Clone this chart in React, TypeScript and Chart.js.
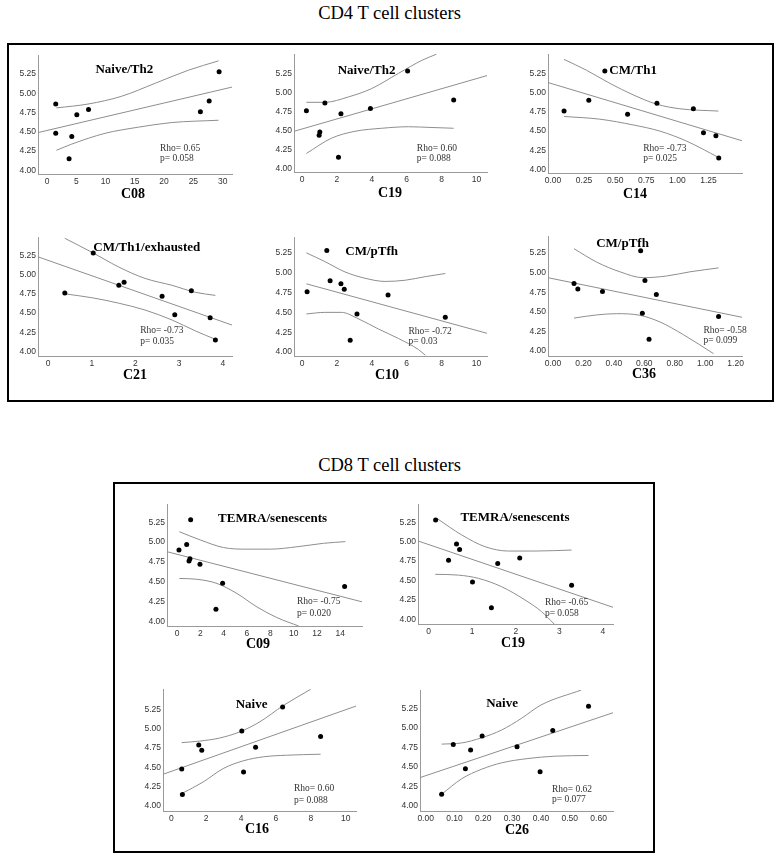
import React, { useEffect, useRef } from 'react';
import { Chart, registerables } from 'chart.js';

Chart.register(...registerables);

type Pt = [number, number];

// ---------------- DATA ----------------
const yTickValues = [4.0, 4.25, 4.5, 4.75, 5.0, 5.25];

// CD4 C08
const cd4C08X = [1.49, 1.49, 3.77, 4.23, 5.09, 7.09, 26.2, 27.7, 29.4];
const cd4C08Y = [4.86, 4.48, 4.15, 4.44, 4.72, 4.79, 4.76, 4.9, 5.28];
const cd4C08Fit: Pt[] = [[-1.54, 4.49], [31.6, 5.08]];
const cd4C08Upper: Pt[] = [[1.6, 4.81], [7.0, 4.86], [12.7, 4.96], [18.5, 5.13], [24.2, 5.3], [29.3, 5.42]];
const cd4C08Lower: Pt[] = [[1.6, 4.26], [4.2, 4.34], [9.9, 4.48], [15.6, 4.56], [21.3, 4.62], [29.3, 4.65]];
const cd4C08Ticks = [0, 5, 10, 15, 20, 25, 30];

// CD4 C19
const cd4C19X = [0.25, 1.31, 1.02, 0.98, 2.23, 2.09, 3.92, 6.05, 8.69];
const cd4C19Y = [4.76, 4.86, 4.48, 4.44, 4.72, 4.15, 4.79, 5.28, 4.9];
const cd4C19Fit: Pt[] = [[-0.46, 4.49], [10.6, 5.22]];
const cd4C19Upper: Pt[] = [[0.25, 4.87], [1.31, 4.87], [2.65, 4.94], [3.99, 5.05], [5.53, 5.25], [6.87, 5.42], [7.7, 5.5]];
const cd4C19Lower: Pt[] = [[0.25, 4.2], [1.69, 4.4], [3.03, 4.49], [4.57, 4.53], [6.1, 4.55], [7.45, 4.54], [8.69, 4.53]];
const cd4C19Ticks = [0, 2, 4, 6, 8, 10];

// CD4 C14
const cd4C14X = [0.089, 0.288, 0.417, 0.6, 0.836, 1.129, 1.21, 1.31, 1.333];
const cd4C14Y = [4.76, 4.9, 5.28, 4.72, 4.86, 4.79, 4.48, 4.44, 4.15];
const cd4C14Fit: Pt[] = [[-0.04, 5.13], [1.52, 4.375]];
const cd4C14Upper: Pt[] = [[0.089, 5.43], [0.269, 5.29], [0.457, 5.12], [0.645, 4.97], [0.833, 4.85], [1.02, 4.79], [1.33, 4.76]];
const cd4C14Lower: Pt[] = [[0.089, 4.69], [0.376, 4.655], [0.645, 4.58], [0.86, 4.5], [1.075, 4.37], [1.33, 4.16]];
const cd4C14Ticks = [0, 0.25, 0.5, 0.75, 1.0, 1.25];

// CD4 C21
const cd4C21X = [0.383, 1.034, 1.62, 1.74, 2.61, 2.9, 3.28, 3.71, 3.83];
const cd4C21Y = [4.76, 5.28, 4.86, 4.9, 4.72, 4.48, 4.79, 4.44, 4.15];
const cd4C21Fit: Pt[] = [[-0.23, 5.23], [4.21, 4.345]];
const cd4C21Upper: Pt[] = [[0.383, 5.47], [1.0, 5.29], [1.61, 5.1], [2.22, 4.95], [2.84, 4.86], [3.37, 4.77], [3.83, 4.73]];
const cd4C21Lower: Pt[] = [[0.383, 4.75], [1.0, 4.7], [1.61, 4.63], [2.22, 4.54], [2.84, 4.41], [3.37, 4.27], [3.83, 4.16]];
const cd4C21Ticks = [0, 1, 2, 3, 4];

// CD4 C10
const cd4C10X = [0.29, 1.42, 1.61, 2.23, 2.42, 4.93, 3.15, 2.76, 8.21];
const cd4C10Y = [4.76, 5.28, 4.9, 4.86, 4.79, 4.72, 4.48, 4.15, 4.44];
const cd4C10Fit: Pt[] = [[0.25, 4.86], [10.6, 4.236]];
const cd4C10Upper: Pt[] = [[0.25, 5.25], [1.31, 5.14], [2.46, 5.01], [3.61, 4.93], [4.76, 4.89], [5.91, 4.905], [7.06, 4.95], [8.21, 4.99]];
const cd4C10Lower: Pt[] = [[0.25, 4.48], [1.31, 4.5], [2.26, 4.5], [3.22, 4.42], [4.38, 4.29], [5.53, 4.17], [6.68, 4.03], [7.06, 3.96]];
const cd4C10Ticks = [0, 2, 4, 6, 8, 10];

// CD4 C36
const cd4C36X = [0.138, 0.163, 0.325, 0.576, 0.604, 0.679, 0.587, 0.631, 1.088];
const cd4C36Y = [4.86, 4.79, 4.76, 5.28, 4.9, 4.72, 4.48, 4.15, 4.44];
const cd4C36Fit: Pt[] = [[-0.033, 4.935], [1.242, 4.43]];
const cd4C36Upper: Pt[] = [[0.138, 5.305], [0.286, 5.135], [0.44, 5.01], [0.593, 4.935], [0.747, 4.957], [0.9, 5.01], [1.088, 5.06]];
const cd4C36Lower: Pt[] = [[0.138, 4.42], [0.286, 4.46], [0.418, 4.476], [0.571, 4.455], [0.703, 4.37], [0.857, 4.208], [1.055, 3.966]];
const cd4C36Ticks = [0, 0.2, 0.4, 0.6, 0.8, 1.0, 1.2];

// CD8 C09
const cd8C09X = [0.17, 0.83, 1.17, 1.11, 1.03, 1.97, 3.91, 3.34, 14.37];
const cd8C09Y = [4.9, 4.97, 5.28, 4.79, 4.76, 4.72, 4.48, 4.15, 4.44];
const cd8C09Fit: Pt[] = [[-0.857, 4.878], [15.86, 4.245]];
const cd8C09Upper: Pt[] = [[0.2, 5.13], [2.0, 5.026], [4.0, 4.93], [6.0, 4.91], [8.0, 4.91], [10.29, 4.94], [12.57, 4.984], [14.43, 5.005]];
const cd8C09Lower: Pt[] = [[0.2, 4.54], [1.71, 4.53], [3.43, 4.477], [5.14, 4.35], [6.86, 4.18], [8.57, 4.046], [10.43, 3.94]];
const cd8C09Ticks = [0, 2, 4, 6, 8, 10, 12, 14];

// CD8 C19
const cd8C19X = [0.16, 0.64, 0.71, 0.457, 1.585, 2.09, 1.006, 1.44, 3.28];
const cd8C19Y = [5.28, 4.97, 4.9, 4.76, 4.72, 4.79, 4.48, 4.15, 4.44];
const cd8C19Fit: Pt[] = [[-0.244, 5.01], [4.23, 4.155]];
const cd8C19Upper: Pt[] = [[0.19, 5.3], [0.76, 5.087], [1.295, 4.936], [1.83, 4.88], [2.44, 4.88], [3.28, 4.893]];
const cd8C19Lower: Pt[] = [[0.152, 4.58], [0.686, 4.57], [1.143, 4.528], [1.676, 4.42], [2.21, 4.25], [2.59, 4.1], [2.88, 3.94]];
const cd8C19Ticks = [0, 1, 2, 3, 4];

// CD8 C16
const cd8C16X = [0.594, 0.632, 1.571, 1.743, 4.04, 4.14, 4.83, 6.38, 8.56];
const cd8C16Y = [4.48, 4.15, 4.79, 4.72, 4.97, 4.44, 4.76, 5.28, 4.9];
const cd8C16Fit: Pt[] = [[-0.48, 4.41], [10.59, 5.293]];
const cd8C16Upper: Pt[] = [[0.594, 4.82], [1.63, 4.84], [2.78, 4.88], [3.93, 4.96], [5.08, 5.09], [6.42, 5.3], [7.99, 5.51]];
const cd8C16Lower: Pt[] = [[0.594, 4.16], [1.82, 4.31], [2.97, 4.484], [4.12, 4.584], [5.27, 4.636], [6.61, 4.657], [8.56, 4.67]];
const cd8C16Ticks = [0, 2, 4, 6, 8, 10];

// CD8 C26
const cd8C26X = [0.0554, 0.0958, 0.138, 0.156, 0.196, 0.317, 0.397, 0.441, 0.565];
const cd8C26Y = [4.15, 4.79, 4.48, 4.72, 4.9, 4.76, 4.44, 4.97, 5.28];
const cd8C26Fit: Pt[] = [[-0.0196, 4.365], [0.65, 5.198]];
const cd8C26Upper: Pt[] = [[0.0554, 4.795], [0.125, 4.81], [0.194, 4.876], [0.263, 4.975], [0.332, 5.125], [0.4, 5.297], [0.54, 5.49]];
const cd8C26Lower: Pt[] = [[0.0554, 4.15], [0.125, 4.35], [0.194, 4.472], [0.263, 4.554], [0.355, 4.61], [0.448, 4.64], [0.565, 4.649]];
const cd8C26Ticks = [0, 0.1, 0.2, 0.3, 0.4, 0.5, 0.6];

// ---------------- PANELS ----------------
interface Panel {
  xs: number[]; ys: number[]; fit: Pt[]; upper: Pt[]; lower: Pt[];
  xTicks: number[]; xDec: number;
  xRange: [number, number]; yRange: [number, number];
  plot: [number, number, number, number]; // L T R B in page px
  title: string; titleAt: Pt;
  rho: string; pval: string; statAt: [number, number, number];
  axisTitle: string; axisTitleAt: Pt; // page px
}

const panels: Panel[] = [
  { xs: cd4C08X, ys: cd4C08Y, fit: cd4C08Fit, upper: cd4C08Upper, lower: cd4C08Lower, xTicks: cd4C08Ticks, xDec: 0,
    xRange: [-1.54, 31.6], yRange: [3.953, 5.496], plot: [38, 55, 232, 174],
    title: 'Naive/Th2', titleAt: [13.2, 5.3], rho: 'Rho= 0.65', pval: 'p= 0.058', statAt: [19.3, 4.29, 4.15],
    axisTitle: 'C08', axisTitleAt: [133, 194] },
  { xs: cd4C19X, ys: cd4C19Y, fit: cd4C19Fit, upper: cd4C19Upper, lower: cd4C19Lower, xTicks: cd4C19Ticks, xDec: 0,
    xRange: [-0.46, 10.6], yRange: [3.957, 5.503], plot: [294, 54, 487, 172],
    title: 'Naive/Th2', titleAt: [3.7, 5.29], rho: 'Rho= 0.60', pval: 'p= 0.088', statAt: [6.58, 4.27, 4.14],
    axisTitle: 'C19', axisTitleAt: [390, 193] },
  { xs: cd4C14X, ys: cd4C14Y, fit: cd4C14Fit, upper: cd4C14Upper, lower: cd4C14Lower, xTicks: cd4C14Ticks, xDec: 2,
    xRange: [-0.04, 1.52], yRange: [3.957, 5.5], plot: [548, 54, 742, 173],
    title: 'CM/Th1', titleAt: [0.645, 5.29], rho: 'Rho= -0.73', pval: 'p= 0.025', statAt: [0.726, 4.28, 4.15],
    axisTitle: 'C14', axisTitleAt: [635, 194] },
  { xs: cd4C21X, ys: cd4C21Y, fit: cd4C21Fit, upper: cd4C21Upper, lower: cd4C21Lower, xTicks: cd4C21Ticks, xDec: 0,
    xRange: [-0.23, 4.21], yRange: [3.944, 5.487], plot: [38, 237, 232, 356],
    title: 'CM/Th1/exhausted', titleAt: [2.26, 5.345], rho: 'Rho= -0.73', pval: 'p= 0.035', statAt: [2.11, 4.27, 4.13],
    axisTitle: 'C21', axisTitleAt: [135, 375] },
  { xs: cd4C10X, ys: cd4C10Y, fit: cd4C10Fit, upper: cd4C10Upper, lower: cd4C10Lower, xTicks: cd4C10Ticks, xDec: 0,
    xRange: [-0.46, 10.6], yRange: [3.95, 5.45], plot: [294, 237, 487, 356],
    title: 'CM/pTfh', titleAt: [3.99, 5.27], rho: 'Rho= -0.72', pval: 'p= 0.03', statAt: [6.1, 4.26, 4.135],
    axisTitle: 'C10', axisTitleAt: [387, 375] },
  { xs: cd4C36X, ys: cd4C36Y, fit: cd4C36Fit, upper: cd4C36Upper, lower: cd4C36Lower, xTicks: cd4C36Ticks, xDec: 2,
    xRange: [-0.033, 1.242], yRange: [3.936, 5.467], plot: [548, 236, 742, 356],
    title: 'CM/pTfh', titleAt: [0.457, 5.37], rho: 'Rho= -0.58', pval: 'p= 0.099', statAt: [0.989, 4.26, 4.128],
    axisTitle: 'C36', axisTitleAt: [644, 374] },
  { xs: cd8C09X, ys: cd8C09Y, fit: cd8C09Fit, upper: cd8C09Upper, lower: cd8C09Lower, xTicks: cd8C09Ticks, xDec: 0,
    xRange: [-0.857, 15.86], yRange: [3.94, 5.48], plot: [167, 504, 362, 626],
    title: 'TEMRA/senescents', titleAt: [8.2, 5.3], rho: 'Rho= -0.75', pval: 'p= 0.020', statAt: [10.29, 4.245, 4.097],
    axisTitle: 'C09', axisTitleAt: [258, 644] },
  { xs: cd8C19X, ys: cd8C19Y, fit: cd8C19Fit, upper: cd8C19Upper, lower: cd8C19Lower, xTicks: cd8C19Ticks, xDec: 0,
    xRange: [-0.244, 4.23], yRange: [3.94, 5.486], plot: [418, 504, 613, 624],
    title: 'TEMRA/senescents', titleAt: [1.98, 5.31], rho: 'Rho= -0.65', pval: 'p= 0.058', statAt: [2.667, 4.22, 4.07],
    axisTitle: 'C19', axisTitleAt: [513, 643] },
  { xs: cd8C16X, ys: cd8C16Y, fit: cd8C16Fit, upper: cd8C16Upper, lower: cd8C16Lower, xTicks: cd8C16Ticks, xDec: 0,
    xRange: [-0.48, 10.59], yRange: [3.935, 5.514], plot: [163, 689, 356, 811],
    title: 'Naive', titleAt: [4.6, 5.315], rho: 'Rho= 0.60', pval: 'p= 0.088', statAt: [7.03, 4.22, 4.074],
    axisTitle: 'C16', axisTitleAt: [257, 829] },
  { xs: cd8C26X, ys: cd8C26Y, fit: cd8C26Fit, upper: cd8C26Upper, lower: cd8C26Lower, xTicks: cd8C26Ticks, xDec: 2,
    xRange: [-0.0196, 0.65], yRange: [3.936, 5.49], plot: [420, 690, 613, 811],
    title: 'Naive', titleAt: [0.265, 5.31], rho: 'Rho= 0.62', pval: 'p= 0.077', statAt: [0.438, 4.215, 4.082],
    axisTitle: 'C26', axisTitleAt: [517, 830] },
];

// ---------------- LAYOUT CONSTANTS ----------------
const PAD_L = 45, PAD_T = 10, PAD_R = 12, PAD_B = 32;
const SERIF = '"Liberation Serif", "Times New Roman", Times, serif';
const SANS = '"Liberation Sans", Arial, Helvetica, sans-serif';
const LINE_COLOR = '#8e8e8e';
const AXIS_COLOR = '#9a9a9a';

function ScatterPanel({ panel }: { panel: Panel }) {
  const ref = useRef<HTMLCanvasElement | null>(null);
  const [L, T, R, B] = panel.plot;
  const left = L - PAD_L;
  const top = T - PAD_T;
  const width = R - L + PAD_L + PAD_R;
  const height = B - T + PAD_T + PAD_B;

  useEffect(() => {
    if (!ref.current) return;
    const toXY = (pts: Pt[]) => pts.map(([x, y]) => ({ x, y }));
    const textPlugin = {
      id: 'panelText',
      afterDatasetsDraw(chart: any) {
        const { ctx, scales } = chart;
        const xs = scales.x, ys = scales.y;
        ctx.save();
        ctx.fillStyle = '#000';
        ctx.textBaseline = 'middle';
        ctx.textAlign = 'center';
        ctx.font = `bold 13px ${SERIF}`;
        ctx.fillText(panel.title, xs.getPixelForValue(panel.titleAt[0]), ys.getPixelForValue(panel.titleAt[1]));
        ctx.fillStyle = '#333';
        ctx.textAlign = 'left';
        ctx.font = `9.5px ${SERIF}`;
        const sx = xs.getPixelForValue(panel.statAt[0]);
        ctx.fillText(panel.rho, sx, ys.getPixelForValue(panel.statAt[1]));
        ctx.fillText(panel.pval, sx, ys.getPixelForValue(panel.statAt[2]));
        ctx.fillStyle = '#000';
        ctx.textAlign = 'center';
        ctx.font = `bold 14px ${SERIF}`;
        ctx.fillText(panel.axisTitle, panel.axisTitleAt[0] - left, panel.axisTitleAt[1] - top);
        ctx.restore();
      },
    };
    const lineDs = (pts: Pt[], curved: boolean) => ({
      data: toXY(pts),
      showLine: true,
      pointRadius: 0,
      borderColor: LINE_COLOR,
      borderWidth: 1,
      backgroundColor: 'transparent',
      cubicInterpolationMode: curved ? 'monotone' : 'default',
      fill: false,
    });
    const chart = new Chart(ref.current, {
      type: 'scatter',
      data: {
        datasets: [
          {
            data: panel.xs.map((x, i) => ({ x, y: panel.ys[i] })),
            pointRadius: 2.5,
            pointBackgroundColor: '#000',
            pointBorderWidth: 0,
            showLine: false,
          } as any,
          lineDs(panel.fit, false) as any,
          lineDs(panel.upper, true) as any,
          lineDs(panel.lower, true) as any,
        ],
      },
      options: {
        animation: false,
        responsive: false,
        events: [],
        layout: { padding: { left: 0, top: PAD_T, right: PAD_R, bottom: 0 } },
        plugins: { legend: { display: false }, tooltip: { enabled: false }, title: { display: false } },
        scales: {
          x: {
            type: 'linear',
            min: panel.xRange[0],
            max: panel.xRange[1],
            grid: { display: false, drawTicks: false },
            border: { display: true, color: AXIS_COLOR, width: 1 },
            ticks: {
              color: '#333',
              font: { family: SANS, size: 8.5 },
              padding: 3,
              autoSkip: false,
              maxRotation: 0,
              callback: (v: any) => Number(v).toFixed(panel.xDec),
            },
            afterBuildTicks: (s: any) => { s.ticks = panel.xTicks.map((v) => ({ value: v })); },
            afterFit: (s: any) => { s.height = PAD_B; },
          },
          y: {
            type: 'linear',
            min: panel.yRange[0],
            max: panel.yRange[1],
            grid: { display: false, drawTicks: false },
            border: { display: true, color: AXIS_COLOR, width: 1 },
            ticks: {
              color: '#333',
              font: { family: SANS, size: 8.5 },
              padding: 2,
              autoSkip: false,
              callback: (v: any) => Number(v).toFixed(2),
            },
            afterBuildTicks: (s: any) => { s.ticks = yTickValues.map((v) => ({ value: v })); },
            afterFit: (s: any) => { s.width = PAD_L; },
          },
        },
      } as any,
      plugins: [textPlugin as any],
    });
    return () => chart.destroy();
  }, [panel]);

  return (
    <canvas
      ref={ref}
      width={width}
      height={height}
      style={{ position: 'absolute', left, top, width, height }}
    />
  );
}

export default function App() {
  const titleStyle: React.CSSProperties = {
    position: 'absolute',
    left: 0,
    width: 779,
    textAlign: 'center',
    fontFamily: SERIF,
    fontSize: 18.5,
    lineHeight: '20px',
    color: '#000',
    margin: 0,
  };
  return (
    <div style={{ position: 'absolute', left: 0, top: 0, width: 779, height: 859, background: '#fff', overflow: 'hidden' }}>
      <div style={{ ...titleStyle, top: 3 }}>CD4 T cell clusters</div>
      <div style={{ position: 'absolute', left: 7, top: 43, width: 767, height: 359, border: '2px solid #000', boxSizing: 'border-box' }} />
      <div style={{ ...titleStyle, top: 455 }}>CD8 T cell clusters</div>
      <div style={{ position: 'absolute', left: 113, top: 482, width: 542, height: 371, border: '2px solid #000', boxSizing: 'border-box' }} />
      {panels.map((p, i) => (
        <ScatterPanel key={i} panel={p} />
      ))}
    </div>
  );
}
